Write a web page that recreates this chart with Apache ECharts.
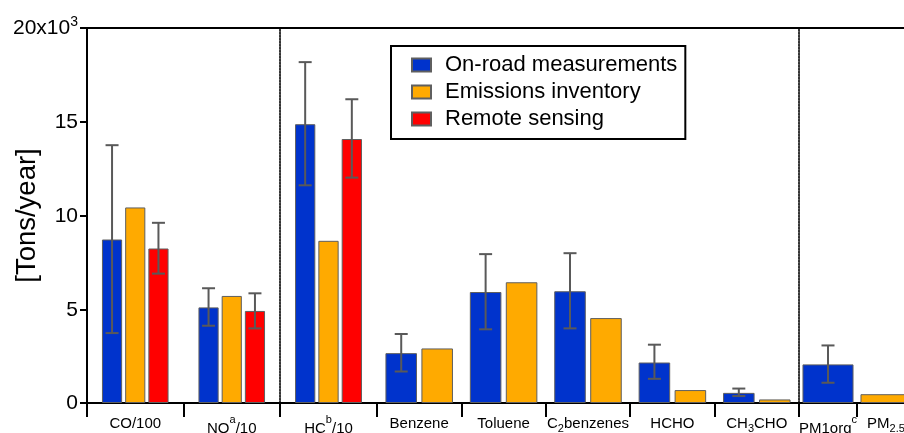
<!DOCTYPE html>
<html>
<head>
<meta charset="utf-8">
<script src="https://cdn.jsdelivr.net/npm/echarts@6/dist/echarts.min.js"></script>
<style>
html,body{margin:0;padding:0;background:#fff;}
#c{width:904px;height:433px;}
</style>
</head>
<body>
<div id="c"></div>
<script>
// ---- data (tons/year) ----
const seriesNames = ['On-road measurements', 'Emissions inventory', 'Remote sensing'];

const catsA = ['CO/100', 'NO^a/10', 'HC^b/10'];
const onroadA = [8720, 5100, 14870];
const inventoryA = [10430, 5710, 8650];
const remoteA = [8240, 4910, 14080];
const onroadErrLowA = [3730, 4120, 11610];
const onroadErrHighA = [13750, 6120, 18180];
const remoteErrLowA = [6900, 3980, 12020];
const remoteErrHighA = [9610, 5850, 16200];

const catsB = ['Benzene', 'Toluene', 'C_2benzenes', 'HCHO', 'CH_3CHO'];
const onroadB = [2660, 5920, 5960, 2160, 540];
const inventoryB = [2910, 6440, 4530, 690, 190];
const onroadErrLowB = [1680, 3930, 3980, 1290, 370];
const onroadErrHighB = [3680, 7940, 7990, 3110, 770];

const catsC = ['PM1org^c', 'PM_2.5'];
const onroadC = [2060, null];
const inventoryC = [null, 470];
const onroadErrLowC = [1080, null];
const onroadErrHighC = [3070, null];

const yTicks = { min: 0, max: 20000, interval: 5000 };

// ---- styles ----
const FONT = 'Liberation Sans, Arial, Helvetica, sans-serif';
const COLORS = ['#0033cc', '#ffaa00', '#ff0000'];
const BAR_BORDER = '#5f5f5f';
const ERR_COLOR = '#595959';

function fmtCat(s) {
  // ^x => superscript, _x => subscript
  const hasSup = s.indexOf('^') >= 0;
  const hasSub = s.indexOf('_') >= 0;
  const main = hasSup ? 'tl' : (hasSub ? 'ts' : 't');
  let out = '';
  const re = /(\^[^_^/]+|_[0-9.]+)/g;
  let last = 0, m;
  while ((m = re.exec(s)) !== null) {
    if (m.index > last) out += '{' + main + '|' + s.slice(last, m.index) + '}';
    const tok = m[0];
    if (tok[0] === '^') out += '{sup|' + tok.slice(1) + '}';
    else out += '{sub|' + tok.slice(1) + '}';
    last = m.index + tok.length;
  }
  if (last < s.length) out += '{' + main + '|' + s.slice(last) + '}';
  return out;
}

const catRich = {
  t: { fontSize: 15, lineHeight: 19, fontFamily: FONT, color: '#000', verticalAlign: 'bottom' },
  tl: { fontSize: 15, lineHeight: 24, fontFamily: FONT, color: '#000', verticalAlign: 'bottom' },
  ts: { fontSize: 15, lineHeight: 22, fontFamily: FONT, color: '#000', verticalAlign: 'bottom', padding: [0, 0, 3, 0] },
  sup: { fontSize: 11, lineHeight: 10, fontFamily: FONT, color: '#000', verticalAlign: 'top', padding: [2, 0, 0, 0] },
  sub: { fontSize: 11, lineHeight: 8, fontFamily: FONT, color: '#000', verticalAlign: 'bottom' }
};

// layout of the panels (categories have different widths in the original)
const gridDefs = [
  { left: 87, width: 193, cats: catsA, from: 0, to: 2, gap: 0.31, barGap: 0.15, n: 3, dottedLeft: false, showY: true },
  { left: 280, width: 97, cats: catsA, from: 2, to: 3, gap: 0.31, barGap: 0.15, n: 3, dottedLeft: true, showY: false },
  { left: 377, width: 422, cats: catsB, from: 0, to: 5, gap: 0.20, barGap: 0.14, n: 2, dottedLeft: false, showY: false },
  { left: 799, width: 116, cats: catsC, from: 0, to: 2, gap: 0.12, barGap: -1, n: 1, dottedLeft: true, showY: false }
];

const grid = [], xAxis = [], yAxis = [], series = [];
const bottomAxisIdx = [];

gridDefs.forEach((g, gi) => {
  grid.push({ left: g.left, width: g.width, top: 28, height: 375, containLabel: false, outerBoundsMode: 'none' });
  bottomAxisIdx.push(xAxis.length);
  const cats = g.cats.slice(g.from, g.to);
  xAxis.push({
    type: 'category', gridIndex: gi, data: cats, position: 'bottom',
    axisLine: { show: true, lineStyle: { color: '#000', width: 2 } },
    axisTick: { show: true, inside: false, length: 14, lineStyle: { color: '#000', width: 2 } },
    axisLabel: { margin: 9, formatter: v => fmtCat(v), rich: catRich, interval: 0, hideOverlap: false },
    splitLine: { show: false }
  });
  xAxis.push({
    type: 'category', gridIndex: gi, data: cats, position: 'top',
    axisLine: { show: true, lineStyle: { color: '#000', width: 2 } },
    axisTick: { show: false }, axisLabel: { show: false }, splitLine: { show: false }
  });
  const yBase = {
    type: 'value', gridIndex: gi, min: yTicks.min, max: yTicks.max, interval: yTicks.interval,
    splitLine: { show: false }
  };
  if (g.showY) {
    yAxis.push(Object.assign(yBase, {
      name: '[Tons/year]',
      nameLocation: 'middle', nameRotate: 90, nameGap: 46, nameMoveOverlap: false,
      nameTextStyle: { fontSize: 27.5, fontFamily: FONT, color: '#000' },
      axisLine: { show: true, lineStyle: { color: '#000', width: 2 } },
      axisTick: { show: true, inside: false, length: 7, lineStyle: { color: '#000', width: 2 } },
      axisLabel: {
        margin: 9,
        formatter: v => v === yTicks.max ? '{n|' + (v / 1000) + 'x10}{e|3}' : '{n|' + (v / 1000) + '}',
        rich: {
          n: { fontSize: 21, lineHeight: 22, fontFamily: FONT, color: '#000', verticalAlign: 'bottom' },
          e: { fontSize: 14, lineHeight: 14, fontFamily: FONT, color: '#000', verticalAlign: 'bottom', padding: [0, 0, 10, 0] }
        }
      }
    }));
  } else {
    // panel separators drawn as dotted y-axis lines
    yAxis.push(Object.assign(yBase, {
      show: g.dottedLeft,
      axisLine: { show: g.dottedLeft, lineStyle: { color: '#333', width: 2, type: [1.6, 1.4] } },
      axisTick: { show: false }, axisLabel: { show: false }
    }));
  }
});

function barSeries(name, gi, data, colorIdx) {
  const g = gridDefs[gi];
  return {
    type: 'bar', name: name, xAxisIndex: bottomAxisIdx[gi], yAxisIndex: gi, data: data.slice(g.from, g.to),
    barCategoryGap: (g.gap * 100) + '%', barGap: (g.barGap * 100) + '%',
    itemStyle: { color: COLORS[colorIdx], borderColor: BAR_BORDER, borderWidth: 1 },
    emphasis: { disabled: true }, z: 2
  };
}

function errSeries(gi, lows, highs, idx) {
  const g = gridDefs[gi];
  const data = [];
  for (let i = g.from; i < g.to; i++) {
    if (lows[i] != null && highs[i] != null) data.push([i - g.from, lows[i], highs[i]]);
  }
  return {
    type: 'custom', name: 'err' + gi + '_' + idx, xAxisIndex: bottomAxisIdx[gi], yAxisIndex: gi,
    data: data, z: 5, silent: true,
    encode: { x: 0, y: [1, 2] },
    renderItem: function (params, api) {
      const cat = api.value(0);
      const lo = api.coord([cat, api.value(1)]);
      const hi = api.coord([cat, api.value(2)]);
      const band = api.size([1, 0])[0];
      const nn = g.n, bg = g.barGap < 0 ? 0 : g.barGap;
      const rem = band * (1 - g.gap);
      const w = rem / (nn + (nn - 1) * bg);
      const off = -rem / 2 + idx * w * (1 + bg) + w / 2;
      const x = lo[0] + off;
      const cap = 6.5;
      const st = { stroke: ERR_COLOR, lineWidth: 2 };
      return {
        type: 'group', children: [
          { type: 'line', shape: { x1: x, y1: lo[1], x2: x, y2: hi[1] }, style: st },
          { type: 'line', shape: { x1: x - cap, y1: hi[1], x2: x + cap, y2: hi[1] }, style: st },
          { type: 'line', shape: { x1: x - cap, y1: lo[1], x2: x + cap, y2: lo[1] }, style: st }
        ]
      };
    }
  };
}

[0, 1].forEach(gi => {
  series.push(barSeries(seriesNames[0], gi, onroadA, 0));
  series.push(barSeries(seriesNames[1], gi, inventoryA, 1));
  series.push(barSeries(seriesNames[2], gi, remoteA, 2));
  series.push(errSeries(gi, onroadErrLowA, onroadErrHighA, 0));
  series.push(errSeries(gi, remoteErrLowA, remoteErrHighA, 2));
});

series.push(barSeries(seriesNames[0], 2, onroadB, 0));
series.push(barSeries(seriesNames[1], 2, inventoryB, 1));
series.push(errSeries(2, onroadErrLowB, onroadErrHighB, 0));

series.push(barSeries(seriesNames[0], 3, onroadC, 0));
series.push(barSeries(seriesNames[1], 3, inventoryC, 1));
series.push(errSeries(3, onroadErrLowC, onroadErrHighC, 0));

const option = {
  animation: false,
  backgroundColor: '#fff',
  textStyle: { fontFamily: FONT },
  grid: grid, xAxis: xAxis, yAxis: yAxis, series: series,
  legend: {
    data: seriesNames,
    orient: 'vertical', left: 391, top: 46,
    icon: 'rect', itemWidth: 19, itemHeight: 13, itemGap: 5,
    padding: [8, 8, 9, 20],
    borderColor: '#000', borderWidth: 2,
    selectedMode: false,
    textStyle: { fontSize: 22, lineHeight: 22, color: '#000', fontFamily: FONT, padding: [0, 0, 0, 9] }
  }
};

const chart = echarts.init(document.getElementById('c'), null, { renderer: 'canvas' });
chart.setOption(option);
</script>
</body>
</html>
